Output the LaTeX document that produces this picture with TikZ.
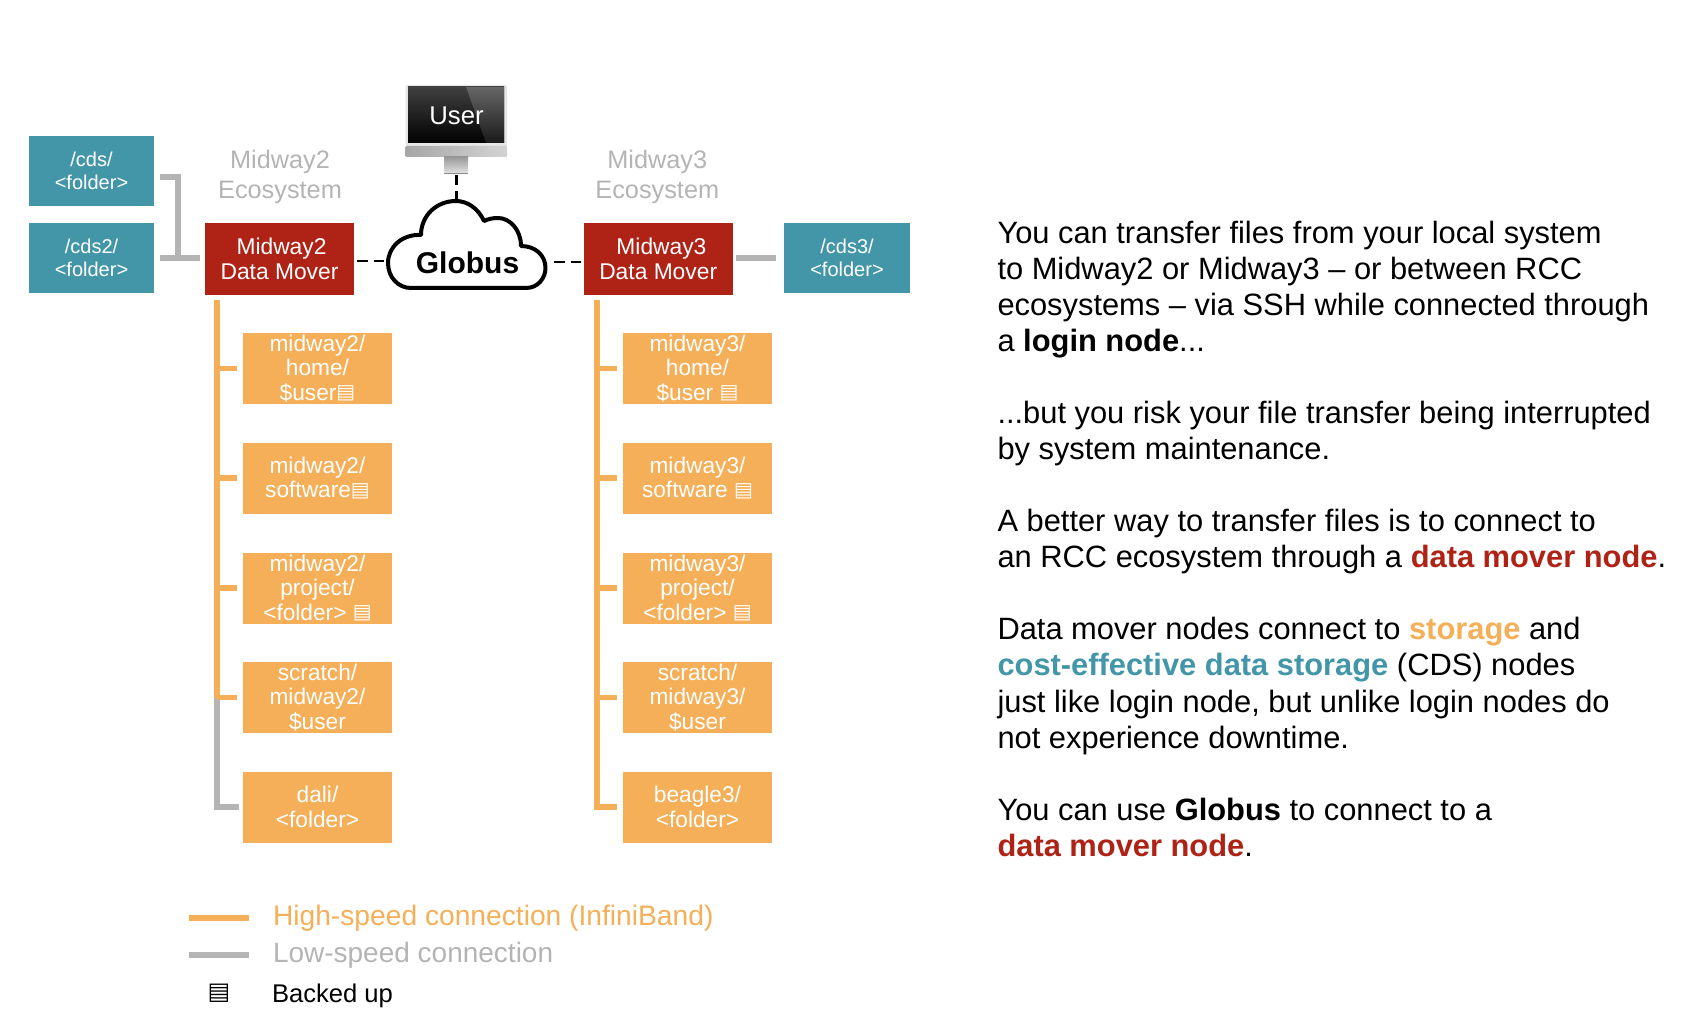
\documentclass[tikz,border=0pt]{standalone}
\usepackage{fontspec}
\setmainfont{Liberation Sans}
\newfontfamily\djv{DejaVu Sans}
\usetikzlibrary{calc}
\definecolor{teal1}{HTML}{4296A8}
\definecolor{red1}{HTML}{AE2315}
\definecolor{org1}{HTML}{F5AF58}
\definecolor{gry1}{HTML}{B4B4B4}
\newcommand{\bk}{\raisebox{1.5pt}{\djv\fontsize{20}{24}\selectfont ▤}}
\tikzset{
  x=1pt,y=-1pt,
  every node/.style={inner sep=0pt,outer sep=0pt,align=center},
  cdsbox/.style={fill=teal1,text=white,minimum width=125pt,minimum height=70pt,font=\fontsize{20}{24.5}\selectfont},
  dmbox/.style={fill=red1,text=white,minimum width=149pt,minimum height=71.5pt,font=\fontsize{22.8}{25}\selectfont},
  stbox/.style={fill=org1,text=white,minimum width=149pt,minimum height=71pt,font=\fontsize{22.7}{24.3}\selectfont},
  eco/.style={text=gry1,font=\fontsize{25.3}{30}\selectfont},
  hs/.style={draw=org1,line width=5.7pt},
  ls/.style={draw=gry1,line width=5.7pt},
  dsh/.style={draw=black,line width=2.3pt,dash pattern=on 10.5pt off 6pt},
}
\begin{document}
\begin{tikzpicture}
\useasboundingbox (0,0) rectangle (1702,1032);
% storage
\node[cdsbox] (cds) at (91.5,171) {\raisebox{-1pt}{/cds/}\\<folder>};
\node[cdsbox] (cdsb) at (91.5,258) {\raisebox{-1pt}{/cds2/}\\<folder>};
\node[cdsbox,minimum width=126pt] (cdsc) at (847,258) {\raisebox{-1pt}{/cds3/}\\<folder>};
\node[dmbox] (dma) at (279.5,259) {\hspace*{4pt}Midway2\\Data Mover};
\node[dmbox] (dmb) at (658.2,259) {\hspace*{6.5pt}Midway3\\Data Mover};
\node[eco] (ecoa) at (280,177) {Midway2\\Ecosystem};
\node[eco] (ecob) at (657.3,177) {Midway3\\Ecosystem};
% left column
\node[stbox] (a1) at (317.5,368.5) {midway2/\\home/\\\$user\bk};
\node[stbox] (a2) at (317.5,478) {midway2/\\software\bk};
\node[stbox] (a3) at (317.5,588) {midway2/\\project/\\<folder> \bk};
\node[stbox] (a4) at (317.5,697.5) {scratch/\\midway2/\\\$user};
\node[stbox] (a5) at (317.5,807) {dali/\\<folder>};
% right column
\node[stbox] (b1) at (697.5,368.5) {midway3/\\home/\\\$user \bk};
\node[stbox] (b2) at (697.5,478) {midway3/\\software \bk};
\node[stbox] (b3) at (697.5,588) {midway3/\\project/\\<folder> \bk};
\node[stbox] (b4) at (697.5,697.5) {scratch/\\midway3/\\\$user};
\node[stbox] (b5) at (697.5,807) {beagle3/\\<folder>};
% buses
\coordinate (ta) at (217,300);
\coordinate (tb) at (597,300);
\draw[ls,line cap=rect] (ta |- a4.west) -- (ta |- a5.west) -- ([xshift=-6.5pt]a5.west);
\draw[hs] (ta) -- (ta |- a4.west);
\foreach \n in {a1,a2,a3,a4}{\draw[hs,shorten >=6pt] (ta |- \n.west) -- (\n.west);}
\draw[hs] (tb) -- (tb |- b5.west) -- ([xshift=-6.5pt]b5.west);
\foreach \n in {b1,b2,b3,b4}{\draw[hs,shorten >=6pt] (tb |- \n.west) -- (\n.west);}
% low-speed to cds
\coordinate (br) at (178,177);
\draw[ls] ([xshift=6pt]cds.east |- br) -- (br) -- (br |- cdsb.east);
\draw[ls] ([xshift=6pt]cdsb.east) -- ([xshift=-5pt]dma.west |- cdsb.east);
\draw[ls] ([xshift=3pt]dmb.east |- cdsc.west) -- ([xshift=-8pt]cdsc.west);
% monitor
\fill[gray!20,rounded corners=1.5pt] (405.5,85) rectangle (507,147);
\shade[top color=black!75,bottom color=black] (408,87) rectangle (504,143);
\shade[top color=black!60,bottom color=black!90] (466,87) -- (504,87) -- (504,143) -- (486,143) -- cycle;
\shade[left color=black!35,right color=black!17,rounded corners=1pt] (405.5,146) rectangle (507,157);
\shade[top color=black!40,bottom color=black!12] (444,157) rectangle (468,173);
\fill[black!45] (444,173) rectangle (468,174);
\node[text=white,font=\fontsize{25.7}{30}\selectfont] (user) at (456.5,116) {User};
\coordinate (stand) at (456.5,175);
% cloud
\draw[black,line width=4pt,fill=white,line join=round]
 (411,288) -- (526,288)
 .. controls (538,288) and (545.5,278) .. (545.5,268)
 .. controls (545.5,255) and (535,246) .. (521,246)
 .. controls (521,230) and (510,218) .. (498,218)
 .. controls (493,218) and (488,219) .. (484,221)
 .. controls (478,208) and (467,201) .. (456,201)
 .. controls (436,201) and (421,216) .. (421,235)
 .. controls (402,234) and (388,247) .. (388,263)
 .. controls (388,277) and (398,288) .. (411,288) -- cycle;
\node[font=\bfseries\fontsize{30}{30}\selectfont] (globus) at (467.5,263) {Globus};
\coordinate (cT) at (456.5,199);
\coordinate (cL) at (386,261);
\coordinate (cR) at (548,262);
\draw[dsh] (stand) -- (cT);
\draw[dsh] ([xshift=3pt]dma.east |- cL) -- (cL);
\draw[dsh] ([xshift=6pt]cR) -- ([xshift=-3pt]dmb.west |- cR);
% legend
\coordinate (la) at (189,918);\coordinate (lb) at (249,918);
\coordinate (lc) at (189,955);\coordinate (ld) at (249,955);
\draw[hs] (la) -- (lb);
\draw[ls] (lc) -- (ld);
\node[anchor=west,text=org1,font=\fontsize{28.2}{30}\selectfont] (l1) at (273,918) {High-speed connection (InfiniBand)};
\node[anchor=west,text=gry1,font=\fontsize{28}{30}\selectfont] (l2) at (273,955) {Low-speed connection};
\node[font=\djv\fontsize{24}{24}\selectfont] (l3i) at (219,993) {▤};
\node[anchor=west,font=\fontsize{25.6}{30}\selectfont] (l3) at (272,996) {Backed up};
% text
\node[anchor=north west,align=left,font=\fontsize{30.85}{36.05}\selectfont] (txt) at (997.5,221) {%
You can transfer files from your local system\\
to Midway2 or Midway3 -- or between RCC\\
ecosystems -- via SSH while connected through\\
a \textbf{login node}...\\
~\\
...but you risk your file transfer being interrupted\\
by system maintenance.\\
~\\
A better way to transfer files is to connect to\\
an RCC ecosystem through a \textcolor{red1}{\textbf{data mover node}}.\\
~\\
Data mover nodes connect to \textcolor{org1}{\textbf{storage}} and\\
\textcolor{teal1}{\textbf{cost-effective data storage}} (CDS) nodes\\
just like login node, but unlike login nodes do\\
not experience downtime.\\
~\\
You can use \textbf{Globus} to connect to a\\
\textcolor{red1}{\textbf{data mover node}}.};
\end{tikzpicture}
\end{document}
